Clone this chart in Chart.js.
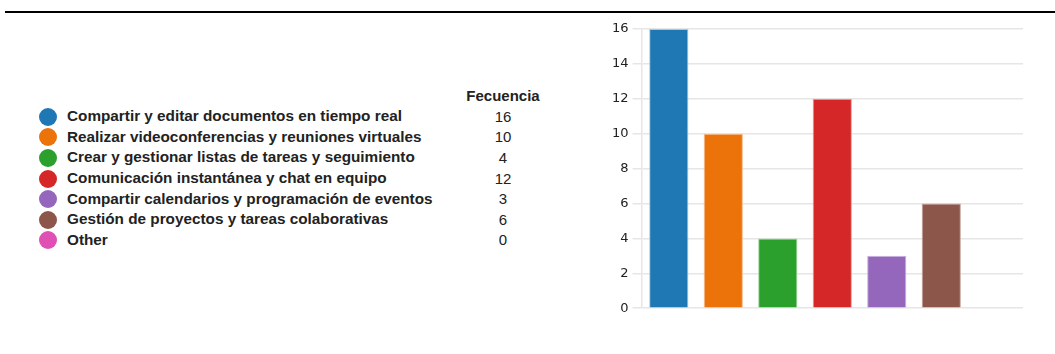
<!DOCTYPE html>
<html>
<head>
<meta charset="utf-8">
<script src="https://cdn.jsdelivr.net/npm/chart.js@4"></script>
<style>
  body { margin: 0; background: #fff; width: 1055px; height: 354px; position: relative; overflow: hidden; font-family: "Liberation Sans", Arial, sans-serif; }
  #topline { position: absolute; left: 5px; top: 11px; width: 1050px; height: 2px; background: #000; }
  #legend { position: absolute; left: 39px; top: 85px; }
  #legend table { border-collapse: collapse; table-layout: fixed; }
  #legend td { padding: 0; height: 20.6px; font-size: 15.3px; color: #222; white-space: nowrap; }
  #legend .dcol { width: 28px; }
  #legend .dot { width: 18px; height: 18px; border-radius: 50%; display: inline-block; vertical-align: middle; }
  #legend .lab { font-weight: bold; width: 396px; }
  #legend .val { text-align: center; width: 80px; font-size: 15px; }
  #legend th { font-size: 15px; font-weight: bold; color: #222; height: 21px; padding: 0; }
  #wrap { position: absolute; left: 595px; top: 15px; width: 440px; height: 305px; }
</style>
</head>
<body>
<div id="topline"></div>
<div id="legend"></div>
<div id="wrap"><canvas id="myChart"></canvas></div>
<script>
const categories = [
    'Compartir y editar documentos en tiempo real',
    'Realizar videoconferencias y reuniones virtuales',
    'Crear y gestionar listas de tareas y seguimiento',
    'Comunicación instantánea y chat en equipo',
    'Compartir calendarios y programación de eventos',
    'Gestión de proyectos y tareas colaborativas',
    'Other'
];
const frecuencia = [16, 10, 4, 12, 3, 6, 0];
const colors = ['#1f77b4', '#ec7309', '#2ca02c', '#d62728', '#9467bd', '#8c564b', '#e04fb4'];
const borders = ['#a9c8e4', '#f7b98a', '#9fd59f', '#ee9a9b', '#c9b3e0', '#c4a59f', '#f0b9de'];
const valueHeader = 'Fecuencia';

// legend table on the left
let html = '<table><tr><th class="dcol"></th><th class="lab"></th><th class="val">' + valueHeader + '</th></tr>';
categories.forEach((c, i) => {
    html += '<tr><td class="dcol"><span class="dot" style="background:' + colors[i] + '"></span></td>'
        + '<td class="lab">' + c + '</td><td class="val">' + frecuencia[i] + '</td></tr>';
});
html += '</table>';
document.getElementById('legend').innerHTML = html;

const ctx = document.getElementById('myChart').getContext('2d');
const myChart = new Chart(ctx, {
    type: 'bar',
    data: {
        labels: categories,
        datasets: [
            {
                label: valueHeader,
                data: frecuencia,
                backgroundColor: colors,
                borderColor: borders,
                borderWidth: 1,
                barPercentage: 0.72,
                categoryPercentage: 1
            }
        ]
    },
    options: {
        responsive: true,
        maintainAspectRatio: false,
        animation: false,
        layout: { padding: { left: 13, right: 12, top: 14, bottom: 0 } },
        plugins: { legend: { display: false }, tooltip: { enabled: false } },
        scales: {
            x: {
                ticks: { display: false },
                grid: { display: false },
                border: { display: false }
            },
            y: {
                min: 0,
                max: 16,
                ticks: { stepSize: 2, color: '#222', padding: 4, font: { family: 'DejaVu Sans', size: 13 } },
                grid: { color: '#e6e6e6', lineWidth: 1.5, tickLength: 9 },
                border: { display: true, color: '#e6e6e6', width: 1.5 }
            }
        }
    }
})
</script>
</body>
</html>
